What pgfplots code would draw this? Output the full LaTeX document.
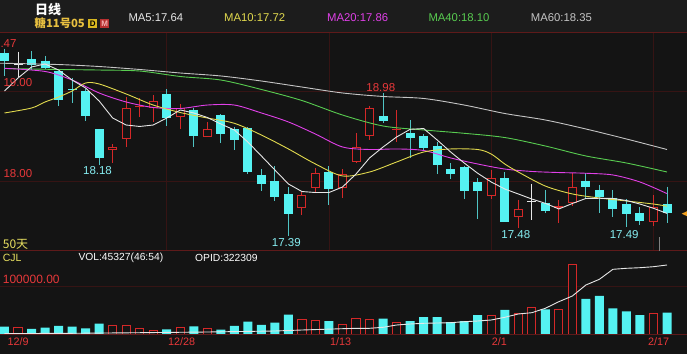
\documentclass[border=0pt]{standalone}
\usepackage{pgfplots}
\pgfplotsset{compat=1.18}
\usepackage{pgfplotstable}
\usepackage{fontspec}
\setmainfont{Liberation Sans}
\newfontfamily\cjk{Noto Sans CJK SC}
\definecolor{bgc}{HTML}{141414}
\definecolor{hdrc}{HTML}{1C1C1C}
\definecolor{sepred}{HTML}{5E1A1A}
\definecolor{gridred}{HTML}{361414}
\definecolor{lblred}{HTML}{E8383A}
\definecolor{candcyan}{HTML}{55F2F2}
\definecolor{wickcyan}{HTML}{4FC4C4}
\definecolor{candred}{HTML}{D42828}
\definecolor{lblcyan}{HTML}{86EEF2}
\definecolor{ma5}{HTML}{E6E6E6}
\definecolor{ma10}{HTML}{E2DA4E}
\definecolor{ma20}{HTML}{E040E8}
\definecolor{ma40}{HTML}{58CC50}
\definecolor{ma60}{HTML}{C4C4C4}
\definecolor{hdryel}{HTML}{E8C040}
\definecolor{txtyel}{HTML}{E8E060}
\definecolor{dyel}{HTML}{D8B820}
\definecolor{mred}{HTML}{B83030}
\definecolor{mpink}{HTML}{F4B0B0}
\definecolor{orangem}{HTML}{F0A020}

% down (cyan, filled) candles
\pgfplotstableread{
i o h l c
0 19.42 19.47 19.17 19.33
2 19.352 19.444 19.233 19.289
3 19.337 19.389 19.24 19.252
4 19.217 19.22 18.83 18.90
5 19.022 19.141 18.87 19.012
6 19.003 19.02 18.67 18.726
7 18.574 18.58 18.18 18.259
12 18.963 19.02 18.614 18.70
14 18.789 18.81 18.374 18.50
16 18.733 18.74 18.426 18.519
17 18.574 18.60 18.34 18.456
18 18.59 18.595 18.075 18.104
19 18.067 18.13 17.89 17.97
20 18.0 18.167 17.78 17.826
21 17.852 17.93 17.39 17.63
24 18.10 18.167 17.733 17.908
28 18.722 18.98 18.645 18.67
30 18.53 18.678 18.26 18.481
31 18.50 18.52 18.33 18.37
32 18.389 18.43 18.078 18.178
33 18.133 18.197 18.019 18.078
34 18.159 18.17 17.796 17.889
35 17.985 18.03 17.575 17.892
37 18.03 18.097 17.54 17.548
40 17.752 17.90 17.648 17.67
43 18.0 18.085 17.81 17.93
44 17.90 17.955 17.648 17.818
45 17.815 17.90 17.60 17.685
46 17.744 17.80 17.49 17.63
47 17.641 17.707 17.51 17.559
49 17.744 17.937 17.53 17.641
}\downtab
% up (red, hollow) candles
\pgfplotstableread{
i o h l c
8 18.344 18.409 18.203 18.381
9 18.472 18.937 18.381 18.808
11 18.814 18.956 18.659 18.886
13 18.714 18.856 18.578 18.806
15 18.492 18.656 18.486 18.574
22 17.70 17.881 17.626 17.844
23 17.926 18.144 17.878 18.085
25 17.919 18.128 17.811 18.074
26 18.213 18.533 18.20 18.378
27 18.50 18.836 18.456 18.806
36 17.837 18.122 17.797 18.03
38 17.604 17.794 17.48 17.685
42 17.756 18.089 17.72 17.937
48 17.541 17.844 17.50 17.715
}\uptab
% small red crosses
\pgfplotstableread{
i o h l c
10 18.82 18.919 18.71 18.832
29 18.57 18.789 18.437 18.582
41 17.70 17.79 17.53 17.72
}\smalltab
% white doji
\pgfplotstableread{
i o h l c
1 19.29 19.437 19.159 19.30
39 17.765 17.967 17.567 17.775
}\dojitab
% volume
\pgfplotstableread{
i v
0 16000
2 11200
3 14000
4 17500
5 16000
6 12600
7 22400
12 10500
14 16800
16 9700
17 17500
18 26500
19 19600
20 24400
21 41200
24 27900
28 32800
30 27900
31 36300
32 36300
33 25800
34 27900
35 40500
37 51100
40 52500
43 74200
44 80500
45 54600
46 48300
47 40500
49 45327
}\volcyan
\pgfplotstableread{
i v
1 13300
8 18900
9 18900
10 11200
11 9000
13 15300
15 12600
22 31500
23 30000
25 21000
26 33600
27 30700
29 25200
36 39100
38 44100
39 56000
41 51100
42 147000
48 43300
}\volred

\pgfplotsset{
  wick/.style={draw=none, mark=none, forget plot,
    error bars/.cd, y dir=minus, y explicit, error mark=none,
    error bar style={draw=#1, line width=1pt}},
  body/.style 2 args={draw=none, mark=none, forget plot,
    error bars/.cd, y dir=minus, y explicit, error mark=none,
    error bar style={draw=#1, line width=#2, line cap=butt}},
}

\begin{document}
\begin{tikzpicture}[x=1pt,y=1pt]
\useasboundingbox (0,0) rectangle (687,354);
\fill[bgc] (0,0) rectangle (687,354);
\fill[hdrc] (0,321.3) rectangle (687,354);

% ---------------- price panel ----------------
\begin{axis}[at={(0pt,104pt)}, anchor=south west, scale only axis,
  width=687pt, height=217pt,
  xmin=-0.3328, xmax=50.48, ymin=17.2333, ymax=19.6444,
  axis line style={draw=none}, tick style={draw=none},
  xtick={12,24,36,48}, ytick={18,19}, xticklabels={}, yticklabels={},
  xmajorgrids, ymajorgrids, grid style={gridred, line width=0.7pt}]
% wicks
\addplot[wick=wickcyan] table[x=i, y=h, y error minus expr=\thisrow{h}-\thisrow{l}] {\downtab};
\addplot[wick=candred] table[x=i, y=h, y error minus expr=\thisrow{h}-\thisrow{l}] {\uptab};
\addplot[wick=candred] table[x=i, y=h, y error minus expr=\thisrow{h}-\thisrow{l}] {\smalltab};
\addplot[wick=ma5] table[x=i, y=h, y error minus expr=\thisrow{h}-\thisrow{l}] {\dojitab};
% bodies
\addplot[body={candcyan}{9pt}] table[x=i, y=o, y error minus expr=\thisrow{o}-\thisrow{c}] {\downtab};
\addplot[body={candred}{9pt}] table[x=i, y=c, y error minus expr=\thisrow{c}-\thisrow{o}] {\uptab};
\addplot[draw=none, mark=none, forget plot,
    error bars/.cd, y dir=minus, y explicit, error mark=none,
    error bar style={draw=bgc, line width=7pt, line cap=butt, shorten <=1pt, shorten >=1pt}]
    table[x=i, y=c, y error minus expr=\thisrow{c}-\thisrow{o}] {\uptab};
\addplot[body={candred}{9pt}] table[x=i, y=c, y error minus expr=\thisrow{c}-\thisrow{o}] {\smalltab};
\addplot[body={ma5}{9pt}] table[x=i, y=c, y error minus expr=\thisrow{c}-\thisrow{o}] {\dojitab};
% moving averages
\addplot[ma60, line width=0.9pt, smooth, mark=none] coordinates {(-0.33,19.308)(0,19.308)(4,19.294)(7,19.272)(10,19.239)(13,19.200)(16,19.167)(19,19.111)(22,19.044)(25,18.978)(28,18.939)(31,18.917)(34,18.844)(37,18.750)(40,18.678)(43,18.578)(46,18.467)(49,18.350)};
\addplot[ma40, line width=0.9pt, smooth, mark=none] coordinates {(0,19.250)(4,19.239)(7,19.233)(10,19.222)(13,19.161)(16,19.122)(19,19.017)(22,18.894)(25,18.733)(28,18.611)(31,18.567)(34,18.530)(37,18.483)(40,18.389)(43,18.278)(46,18.200)(49,18.100)};
\addplot[ma20, line width=0.9pt, smooth, mark=none] coordinates {(0,19.252)(3,19.217)(5,19.122)(7,18.978)(9,18.878)(11,18.817)(13,18.806)(15,18.844)(17,18.844)(19,18.756)(21,18.656)(23,18.522)(25,18.378)(27,18.350)(29,18.356)(31,18.339)(33,18.256)(35,18.189)(37,18.133)(39,18.106)(41,18.094)(43,18.086)(45,18.067)(47,17.989)(49,17.860)};
\addplot[ma10, line width=0.9pt, smooth, mark=none] coordinates {(0,18.756)(2,18.811)(3,18.878)(4,18.933)(5,19.000)(6,19.089)(7,19.078)(9,18.967)(11,18.844)(13,18.761)(15,18.700)(17,18.641)(19,18.511)(21,18.356)(23,18.189)(25,18.056)(27,18.100)(29,18.211)(31,18.322)(33,18.356)(35,18.350)(36,18.300)(37,18.189)(38,18.100)(40,17.944)(42,17.856)(44,17.811)(46,17.778)(48,17.744)(49,17.720)};
\addplot[ma5, line width=0.9pt, mark=none] coordinates {(0,19.000)(1,19.144)(2,19.267)(3,19.300)(4,19.233)(5,19.122)(6,19.033)(7,18.889)(8,18.700)(9,18.622)(10,18.606)(11,18.622)(12,18.700)(13,18.789)(14,18.756)(15,18.706)(16,18.633)(17,18.567)(18,18.433)(19,18.278)(20,18.122)(21,17.967)(22,17.883)(23,17.872)(24,17.872)(25,17.933)(26,18.078)(27,18.256)(28,18.378)(29,18.489)(30,18.574)(31,18.583)(32,18.456)(33,18.322)(34,18.200)(35,18.086)(36,17.989)(37,17.911)(38,17.856)(39,17.800)(40,17.752)(41,17.689)(42,17.750)(43,17.806)(44,17.808)(45,17.806)(46,17.783)(47,17.744)(48,17.697)(49,17.640)};
\end{axis}

% ---------------- volume panel ----------------
\begin{axis}[at={(0pt,19.7pt)}, anchor=south west, scale only axis,
  width=687pt, height=83.6pt,
  xmin=-0.3328, xmax=50.48, ymin=0, ymax=175630,
  axis line style={draw=none}, tick style={draw=none},
  xtick=\empty, ytick={100000}, yticklabels={}, scaled y ticks=false,
  ymajorgrids, grid style={gridred, line width=0.8pt}]
\addplot[ybar, bar width=9pt, bar shift=0pt, fill=candcyan, draw=none] table[x=i, y=v] {\volcyan};
\addplot[ybar, bar width=8.2pt, bar shift=0pt, fill=bgc, draw=candred, line width=1pt] table[x=i, y=v] {\volred};
\addplot[ma5, line width=0.9pt, mark=none] coordinates {(0,1470)(5,2100)(10,3360)(15,4830)(20,6930)(22,9030)(25,11760)(26,12600)(27,12600)(28,14700)(29,19540)(30,21640)(31,23110)(32,23740)(33,24370)(34,26470)(35,27940)(36,30040)(37,35710)(38,42650)(39,45380)(40,54620)(41,68490)(42,80460)(43,103570)(44,115550)(45,136550)(46,138660)(47,139920)(48,142020)(49,145590)};
\end{axis}

% separators
\draw[sepred, line width=1pt] (0,321.3) -- (687,321.3);
\draw[sepred, line width=1pt] (0,103.3) -- (687,103.3);
\draw[sepred, line width=1pt] (0,19.7) -- (687,19.7);
\draw[gray, line width=1pt] (659.3,103.3) -- (659.3,117.3);
\fill[orangem] (681.7,140.3) -- (687,142.8) -- (687,137.8) -- cycle;

% header texts
\node[anchor=west, inner sep=0, text=white, font=\cjk\bfseries\fontsize{13}{14}\selectfont] at (35,344.8) {日线};
\node[anchor=west, inner sep=0, text=hdryel, font=\cjk\bfseries\fontsize{11.3}{12}\selectfont] at (34.5,330.7) {糖11号05};
\node[fill=dyel, text=black, inner sep=0, minimum width=9pt, minimum height=9.3pt, font=\bfseries\fontsize{8}{8}\selectfont] at (92.8,330.4) {D};
\node[fill=mred, text=mpink, inner sep=0, minimum width=9.3pt, minimum height=9.3pt, font=\bfseries\fontsize{8}{8}\selectfont] at (104.7,330.4) {M};
\begin{scope}[every node/.style={anchor=west, inner sep=0, font=\fontsize{11.3}{12}\selectfont}]
\node[text=ma5] at (128.3,336.3) {MA5:17.64};
\node[text=ma10] at (224,336.3) {MA10:17.72};
\node[text=ma20] at (327,336.3) {MA20:17.86};
\node[text=ma40] at (428.3,336.3) {MA40:18.10};
\node[text=ma60] at (530.7,336.3) {MA60:18.35};
\end{scope}

% price labels
\begin{scope}[every node/.style={inner sep=0, font=\fontsize{11.5}{12}\selectfont}]
\node[anchor=east, text=lblred] at (16.7,310.5) {19.47};
\node[anchor=west, text=lblred] at (3.3,271) {19.00};
\node[anchor=west, text=lblred] at (3.3,180.7) {18.00};
\node[text=lblcyan] at (97.5,183) {18.18};
\node[text=lblcyan] at (286.3,111.8) {17.39};
\node[text=lblred] at (380.8,266.5) {18.98};
\node[text=lblcyan] at (515.8,119.3) {17.48};
\node[text=lblcyan] at (624.2,119.3) {17.49};
\end{scope}
\node[anchor=west, inner sep=0, text=txtyel, font=\cjk\fontsize{12}{13}\selectfont] at (2.7,110) {50天};

% volume labels
\node[anchor=west, inner sep=0, text=txtyel, font=\fontsize{10.5}{11}\selectfont] at (2.7,95.7) {CJL};
\node[anchor=west, inner sep=0, text=white, font=\fontsize{10.3}{11}\selectfont] at (78.3,95.7) {VOL:45327(46:54)};
\node[anchor=west, inner sep=0, text=white, font=\fontsize{10.3}{11}\selectfont] at (195,95.7) {OPID:322309};
\node[anchor=west, inner sep=0, text=lblred, font=\fontsize{12}{13}\selectfont] at (2.7,75) {100000.00};

% date labels
\begin{scope}[every node/.style={anchor=west, inner sep=0, text=lblred, font=\fontsize{10.8}{11}\selectfont}]
\node at (7.3,12.3) {12/9};
\node at (168,12.3) {12/28};
\node at (330,12.3) {1/13};
\node at (491.7,12.3) {2/1};
\node at (648,12.3) {2/17};
\end{scope}
\end{tikzpicture}
\end{document}
